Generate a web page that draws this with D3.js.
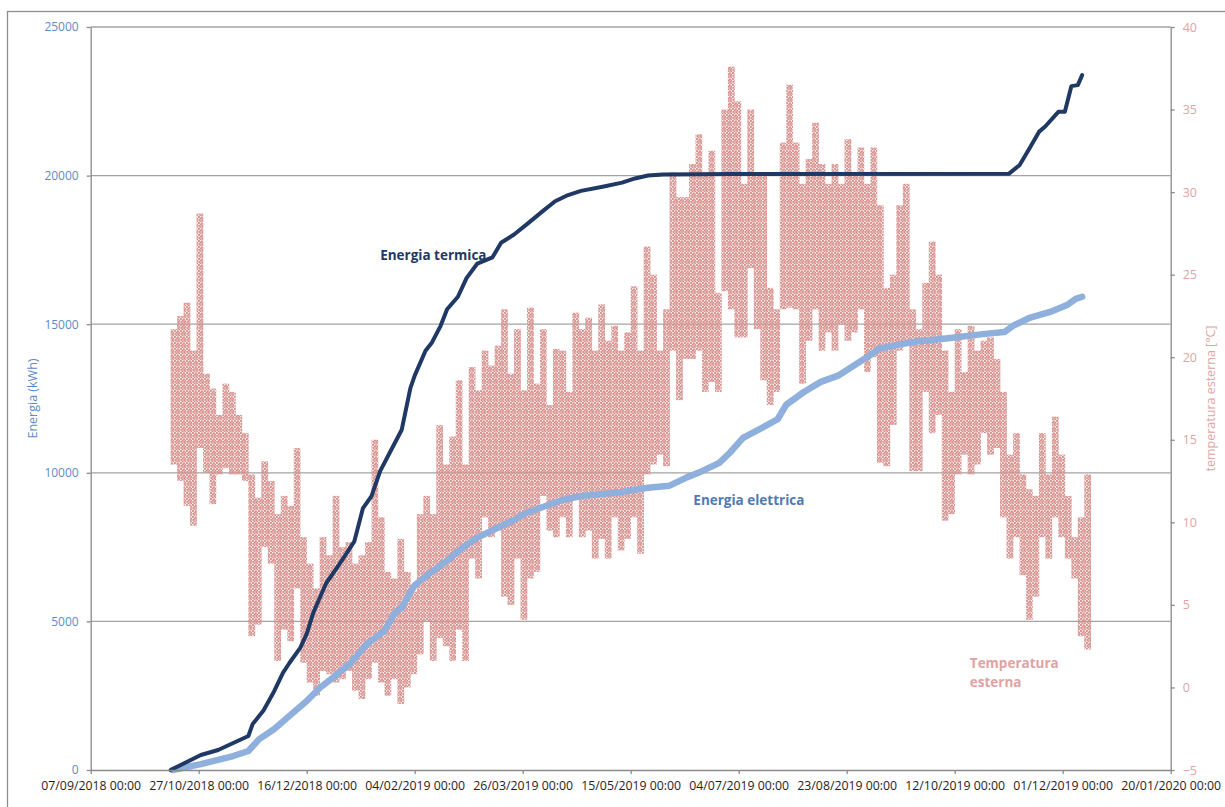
<!DOCTYPE html>
<html>
<head>
<meta charset="utf-8">
<script src="https://cdn.jsdelivr.net/npm/d3@7"></script>
<style>
  html, body { margin: 0; padding: 0; background: #fff; }
  svg { display: block; font-family: "Open Sans", "Noto Sans", sans-serif; }
</style>
</head>
<body>
<script>
// ---- data -------------------------------------------------------------
// cumulative thermal energy (kWh)
const termicaDates = ["2018-10-14","2018-10-28","2018-11-05","2018-11-12","2018-11-19","2018-11-21","2018-11-26","2018-12-01","2018-12-05","2018-12-08","2018-12-13","2018-12-16","2018-12-19","2018-12-25","2018-12-31","2019-01-07","2019-01-11","2019-01-15","2019-01-19","2019-01-25","2019-01-29","2019-02-02","2019-02-04","2019-02-09","2019-02-12","2019-02-16","2019-02-19","2019-02-24","2019-02-28","2019-03-05","2019-03-12","2019-03-16","2019-03-22","2019-03-28","2019-04-04","2019-04-10","2019-04-16","2019-04-22","2019-05-02","2019-05-11","2019-05-17","2019-05-23","2019-05-30","2019-07-01","2019-11-06","2019-11-11","2019-11-16","2019-11-20","2019-11-23","2019-11-29","2019-12-02","2019-12-05","2019-12-08","2019-12-10"];
const termicaValues = [0,505,674,910,1145,1550,2000,2660,3270,3600,4110,4580,5280,6284,6913,7681,8800,9218,10056,10894,11450,12850,13269,14107,14387,14946,15504,15923,16552,17041,17250,17739,18019,18368,18787,19136,19346,19486,19625,19765,19905,20002,20040,20050,20060,20349,20966,21471,21660,22146,22146,23010,23044,23381];

// cumulative electrical energy (kWh)
const elettricaDates = ["2018-10-15","2018-10-28","2018-11-12","2018-11-19","2018-11-24","2018-12-01","2018-12-08","2018-12-16","2018-12-22","2018-12-28","2019-01-05","2019-01-13","2019-01-21","2019-01-26","2019-01-29","2019-02-01","2019-02-04","2019-02-10","2019-02-18","2019-02-26","2019-03-05","2019-03-13","2019-03-21","2019-03-28","2019-04-05","2019-04-13","2019-04-22","2019-05-02","2019-05-11","2019-05-17","2019-05-23","2019-06-02","2019-06-10","2019-06-17","2019-06-25","2019-06-30","2019-07-06","2019-07-15","2019-07-22","2019-07-26","2019-08-03","2019-08-11","2019-08-19","2019-08-28","2019-09-03","2019-09-07","2019-09-16","2019-09-24","2019-10-09","2019-10-25","2019-11-04","2019-11-08","2019-11-16","2019-11-26","2019-12-03","2019-12-07","2019-12-10"];
const elettricaValues = [0,200,470,640,1040,1380,1820,2320,2760,3100,3570,4245,4680,5306,5460,5865,6214,6563,6983,7471,7821,8100,8379,8659,8868,9078,9218,9288,9357,9427,9497,9567,9846,10056,10335,10684,11173,11523,11802,12290,12710,13059,13269,13688,13967,14177,14317,14415,14526,14666,14736,14946,15225,15434,15644,15853,15923];

// outdoor temperature (°C): max / min over consecutive 3-day periods
const tempStart = "2018-10-14";
const tempStepDays = 3;
const tempMax = [21.7,22.5,23.3,20.4,28.7,19.0,18.1,16.5,18.4,17.9,
  16.5,15.4,12.9,11.5,13.7,12.5,10.5,11.6,11.0,14.5,
  9.1,7.5,6.0,9.1,8.0,11.6,8.5,8.8,7.5,8.0,
  8.8,15.0,10.3,7.0,6.6,9.0,7.0,5.8,10.5,11.6,
  10.5,15.9,13.5,15.2,18.6,13.5,19.4,18.0,20.4,19.5,
  20.7,22.9,19.0,21.7,18.0,23.0,18.4,21.7,17.1,20.5,
  20.4,17.9,22.7,21.7,22.4,20.4,23.2,21.0,21.9,20.4,
  21.5,24.3,20.4,26.7,25.0,20.4,22.9,31.2,29.7,29.7,
  31.7,33.5,31.2,32.5,23.9,35.0,37.6,35.5,30.5,35.0,
  31.2,31.2,24.2,22.9,33.0,36.5,33.0,30.5,32.0,34.2,
  31.7,30.5,31.7,30.5,33.2,31.2,32.7,30.5,32.7,29.2,
  24.2,25.0,29.2,30.5,22.9,21.7,24.5,27.0,25.0,20.4,
  17.9,21.7,19.1,21.9,20.4,21.0,21.2,19.9,17.9,14.1,
  15.4,12.9,12.0,11.6,15.4,12.9,16.4,14.1,11.6,9.1,
  10.3,12.9];
const tempMin = [13.5,12.5,11.0,9.8,14.5,13.0,11.1,12.9,13.3,12.9,
  12.9,12.5,3.1,3.8,8.5,7.5,1.6,3.5,2.8,6.0,
  1.5,0.3,-0.5,1.0,0.8,0.3,0.5,1.0,-0.2,-0.7,
  0.5,1.5,0.3,-0.5,0.5,-1.0,0.0,0.8,2.0,4.0,
  1.6,3.0,2.5,1.6,3.5,1.6,7.8,6.6,10.3,9.1,
  9.5,5.5,5.0,7.8,4.1,6.6,7.0,11.6,9.5,9.1,
  10.3,9.1,11.6,9.1,9.5,7.8,9.0,7.8,10.3,8.3,
  9.0,10.3,8.1,12.9,13.5,14.1,13.4,20.4,17.4,19.9,
  19.9,20.4,17.9,18.5,17.9,24.0,22.9,21.2,21.2,25.4,
  21.7,18.6,17.1,17.9,22.9,23.0,22.9,18.4,21.0,22.9,
  20.4,21.5,20.4,22.0,21.0,21.5,22.9,19.1,20.0,13.6,
  13.4,15.9,20.4,21.0,13.1,13.1,17.9,15.4,16.5,10.1,
  10.5,12.9,14.1,12.9,13.5,15.4,14.1,14.5,10.3,7.8,
  9.1,6.8,4.1,5.5,9.1,7.8,10.3,9.1,7.8,6.6,
  3.1,2.3];

// axis ticks
const energyTicks = [0, 5000, 10000, 15000, 20000, 25000];
const tempTicks = [-5, 0, 5, 10, 15, 20, 25, 30, 35, 40];
const dateTicks = ["2018-09-07","2018-10-27","2018-12-16","2019-02-04","2019-03-26","2019-05-15","2019-07-04","2019-08-23","2019-10-12","2019-12-01","2020-01-20"];

// ---- setup ------------------------------------------------------------
const W = 1225, H = 807;
const parse = d3.utcParse("%Y-%m-%d");
const fmtDate = d3.utcFormat("%d/%m/%Y %H:%M");

const colTermica = "#1f3864";
const colElettrica = "#8fb0dc";
const colTemp = "#d78f8c";
const colLeftAxis = "#5b8bc8";
const colRightAxis = "#e2a4a2";
const colGrid = "#a3a3a3";

const svg = d3.select("body").append("svg").attr("width", W).attr("height", H);

const x = d3.scaleUtc()
  .domain([parse(dateTicks[0]), parse(dateTicks[dateTicks.length - 1])])
  .range([90.7, 1170.7]);
const yE = d3.scaleLinear().domain([0, 25000]).range([770, 27]);
const yT = d3.scaleLinear().domain([-5, 40]).range([770, 27]);

// stipple pattern for the temperature cloud (hourly readings look like dense dots)
const defs = svg.append("defs");
const pat = defs.append("pattern")
  .attr("id", "stipple").attr("patternUnits", "userSpaceOnUse")
  .attr("width", 6).attr("height", 6);
pat.append("rect").attr("width", 6).attr("height", 6).attr("fill", colTemp).attr("fill-opacity", 0.18);
[[0,0],[3,0.5],[0.5,3],[3.5,3.2],[1.8,1.6],[4.6,1.8],[1.6,4.6],[4.4,4.8]].forEach(([px, py]) => {
  pat.append("rect").attr("x", px).attr("y", py).attr("width", 1.9).attr("height", 1.9).attr("fill", colTemp);
});

// chart frame
svg.append("rect")
  .attr("x", 7.5).attr("y", 11.5).attr("width", W + 20).attr("height", H + 20)
  .attr("fill", "none").attr("stroke", "#8f8f8f").attr("stroke-width", 1.3);

// horizontal gridlines
svg.append("g").selectAll("line")
  .data(energyTicks.filter(v => v > 0))
  .join("line")
  .attr("x1", x.range()[0]).attr("x2", x.range()[1])
  .attr("y1", d => yE(d)).attr("y2", d => yE(d))
  .attr("stroke", colGrid).attr("stroke-width", 1.3);

// temperature cloud
const tempData = tempMax.map((hi, i) => {
  const d0 = d3.utcDay.offset(parse(tempStart), i * tempStepDays);
  return { d0, d1: d3.utcDay.offset(d0, tempStepDays), hi, lo: tempMin[i] };
});
svg.append("g").selectAll("rect")
  .data(tempData)
  .join("rect")
  .attr("x", d => x(d.d0))
  .attr("width", d => x(d.d1) - x(d.d0) + 0.3)
  .attr("y", d => yT(d.hi))
  .attr("height", d => yT(d.lo) - yT(d.hi))
  .attr("fill", "url(#stipple)");

// cumulative energy lines
const lineE = d3.line().x(d => x(d.date)).y(d => yE(d.v));
const elettrica = elettricaDates.map((s, i) => ({ date: parse(s), v: elettricaValues[i] }));
const termica = termicaDates.map((s, i) => ({ date: parse(s), v: termicaValues[i] }));

svg.append("path").datum(elettrica)
  .attr("d", lineE).attr("fill", "none")
  .attr("stroke", colElettrica).attr("stroke-width", 6.5)
  .attr("stroke-linejoin", "round").attr("stroke-linecap", "round");
svg.append("path").datum(termica)
  .attr("d", lineE).attr("fill", "none")
  .attr("stroke", colTermica).attr("stroke-width", 4)
  .attr("stroke-linejoin", "round").attr("stroke-linecap", "round");

// axes
function styleAxis(g, textColor, size) {
  g.selectAll(".domain").attr("stroke", "#8a8a8a").attr("stroke-width", 1.3);
  g.selectAll(".tick line").attr("stroke", "#8a8a8a").attr("stroke-width", 1.3);
  g.selectAll(".tick text").attr("fill", textColor).attr("font-size", size)
    .attr("font-family", "'Open Sans', sans-serif");
}

svg.append("g")
  .attr("transform", `translate(${x.range()[0]},0)`)
  .call(d3.axisLeft(yE).tickValues(energyTicks).tickSize(4).tickSizeOuter(0).tickPadding(8).tickFormat(d3.format("d")))
  .call(g => styleAxis(g, colLeftAxis, 12));

svg.append("g")
  .attr("transform", `translate(${x.range()[1]},0)`)
  .call(d3.axisRight(yT).tickValues(tempTicks).tickSize(4).tickSizeOuter(0).tickPadding(8))
  .call(g => styleAxis(g, colRightAxis, 12.5));

svg.append("g")
  .attr("transform", `translate(0,${yE(0)})`)
  .call(d3.axisBottom(x).tickValues(dateTicks.map(parse)).tickSize(4).tickSizeOuter(0).tickPadding(7).tickFormat(fmtDate))
  .call(g => styleAxis(g, "#1e1e1e", 12.3));

// axis titles
svg.append("text")
  .attr("transform", `translate(37,${(yE(0) + yE(25000)) / 2}) rotate(-90)`)
  .attr("text-anchor", "middle").attr("font-size", 12.5)
  .attr("fill", colLeftAxis).text("Energia (kWh)");
svg.append("text")
  .attr("transform", `translate(1215,${(yE(0) + yE(25000)) / 2}) rotate(-90)`)
  .attr("text-anchor", "middle").attr("font-size", 12.5)
  .attr("fill", colRightAxis).text("temperatura esterna [°C]");

// series labels
svg.append("text")
  .attr("x", x(parse("2019-01-19"))).attr("y", yE(17170))
  .attr("font-size", 13.5).attr("font-weight", 700).attr("fill", colTermica)
  .text("Energia termica");
svg.append("text")
  .attr("x", x(parse("2019-06-13"))).attr("y", yE(8920))
  .attr("font-size", 13.5).attr("font-weight", 700).attr("fill", "#4f7ab4")
  .text("Energia elettrica");
const tLab = svg.append("text")
  .attr("font-size", 13.5).attr("font-weight", 700).attr("fill", "#e0a3a1");
tLab.append("tspan").attr("x", x(parse("2019-10-19"))).attr("y", yT(1.18)).text("Temperatura");
tLab.append("tspan").attr("x", x(parse("2019-10-19"))).attr("y", yT(0.03)).text("esterna");
</script>
</body>
</html>
